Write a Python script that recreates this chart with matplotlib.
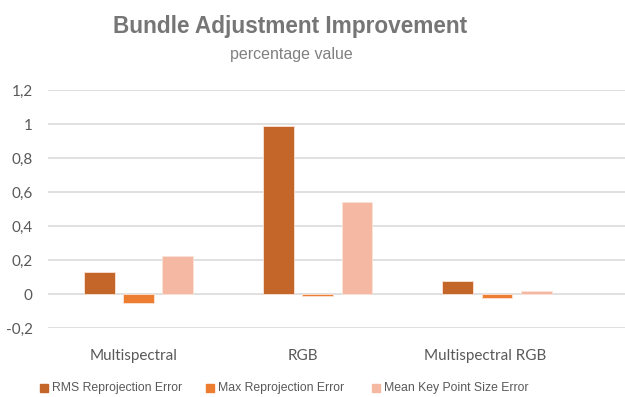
import matplotlib.pyplot as plt
from matplotlib.patches import Rectangle
import numpy as np

categories = ["Multispectral", "RGB", "Multispectral RGB"]
series_names = ["RMS Reprojection Error", "Max Reprojection Error", "Mean Key Point Size Error"]
rms_error = [0.13, 0.99, 0.075]
max_error = [-0.055, -0.01, -0.024]
mean_kp_error = [0.222, 0.54, 0.02]
y_ticks = [-0.2, 0, 0.2, 0.4, 0.6, 0.8, 1, 1.2]
y_tick_labels = ["-0,2", "0", "0,2", "0,4", "0,6", "0,8", "1", "1,2"]

colors = ["#C4652A", "#ED7D31", "#F4B8A3"]

W, H = 625, 397
fig = plt.figure(figsize=(W / 100, H / 100), dpi=100)
ax = fig.add_axes([48 / W, 1 - 328 / H, 577 / W, 238 / H])

x = np.arange(len(categories))
bar_w = 0.173
step = 0.218
for i, (vals, c) in enumerate(zip([rms_error, max_error, mean_kp_error], colors)):
    ax.bar(x + (i - 1) * step, vals, width=bar_w, color=c, edgecolor="#FBE3D8",
           linewidth=0.6, zorder=3, label=series_names[i])

ax.set_xlim(-0.508, 2.715)
ax.set_ylim(-0.2, 1.2)
ax.set_yticks(y_ticks)
ax.set_yticklabels(y_tick_labels)
ax.yaxis.grid(True, color="#DADADA", linewidth=1.2, zorder=0)
label_shift = np.array([-0.028, -0.084, -0.067])
ax.set_xticks(x + label_shift)
ax.set_xticklabels(categories)
ax.tick_params(axis="both", length=0, labelsize=11, colors="#595959")
ax.tick_params(axis="y", pad=11)
ax.tick_params(axis="x", pad=15)
for lab in ax.get_xticklabels() + ax.get_yticklabels():
    lab.set_family("Lato")
for s in ax.spines.values():
    s.set_visible(False)

fig.text(290 / W, 1 - 27 / H, "Bundle Adjustment Improvement", ha="center", va="center",
         fontsize=16.3, fontweight="bold", color="#767676", family="Liberation Sans")
fig.text(291 / W, 1 - 54 / H, "percentage value", ha="center", va="center",
         fontsize=11.5, color="#808080", family="Liberation Sans")

# legend row
legend_x = [40, 206, 372]
for lx, c, name in zip(legend_x, colors, series_names):
    fig.patches.append(Rectangle((lx / W, 1 - 392 / H), 8 / W, 8 / H,
                                 transform=fig.transFigure, color=c))
    fig.text((lx + 12) / W, 1 - 388 / H, name, ha="left", va="center",
             fontsize=8.8, color="#595959", family="Liberation Sans")

fig.savefig("out.png", dpi=100)
